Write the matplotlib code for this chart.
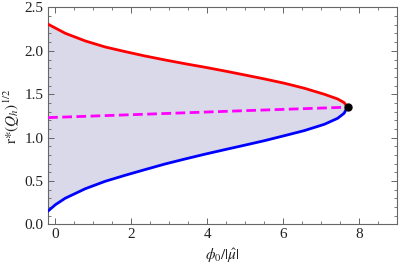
import matplotlib

matplotlib.use('Agg')
import matplotlib.pyplot as plt
from matplotlib.ticker import MultipleLocator

plt.rcParams['font.family'] = ['Liberation Serif', 'DejaVu Serif']
plt.rcParams['mathtext.fontset'] = 'stix'

# upper branch (red)
upper_x = [-0.19, 0.26, 0.79, 1.31, 1.84, 2.36, 2.89, 3.41, 3.94, 4.46, 4.99,
           5.51, 6.04, 6.56, 7.09, 7.44, 7.61, 7.70]
upper_y = [2.307, 2.203, 2.114, 2.045, 1.991, 1.941, 1.895, 1.852, 1.811,
           1.768, 1.722, 1.676, 1.626, 1.569, 1.499, 1.445, 1.403, 1.353]

# lower branch (blue)
lower_x = [-0.19, 0.0, 0.26, 0.79, 1.31, 1.84, 2.36, 2.89, 3.41, 3.94, 4.46,
           4.99, 5.51, 6.04, 6.56, 7.09, 7.44, 7.61, 7.70]
lower_y = [0.153, 0.225, 0.30, 0.41, 0.495, 0.565, 0.63, 0.695, 0.752,
           0.808, 0.86, 0.912, 0.964, 1.022, 1.08, 1.153, 1.222, 1.28, 1.353]

# middle (magenta dashed)
mid_x = [-0.19, 2.36, 4.99, 7.61, 7.70]
mid_y = [1.23, 1.269, 1.31, 1.349, 1.353]

tip_x, tip_y = 7.70, 1.353

fig = plt.figure(figsize=(3.99, 2.67), dpi=100)
ax = fig.add_axes([0.1196, 0.16, 0.875, 0.812])

poly_x = upper_x + lower_x[::-1]
poly_y = upper_y + lower_y[::-1]
ax.fill(poly_x, poly_y, color='#d9d9ea', lw=0, zorder=1)
ax.plot(upper_x, upper_y, color='#ff0000', lw=2, zorder=3, solid_capstyle='round')
ax.plot(lower_x, lower_y, color='#0000ff', lw=2, zorder=3, solid_capstyle='round')
ax.plot(mid_x, mid_y, color='#ff00ff', lw=2, dashes=(3.5, 1.6), zorder=3)
ax.plot([tip_x], [tip_y], 'o', color='black', ms=5, zorder=4)

ax.set_xlim(-0.2, 9.0)
ax.set_ylim(0, 2.5)
ax.xaxis.set_major_locator(MultipleLocator(2))
ax.xaxis.set_minor_locator(MultipleLocator(0.5))
ax.yaxis.set_major_locator(MultipleLocator(0.5))
ax.yaxis.set_minor_locator(MultipleLocator(0.1))
ax.set_yticklabels([f'{v:.1f}' for v in ax.get_yticks()])

frame = '#666666'
for s in ax.spines.values():
    s.set_color(frame)
    s.set_linewidth(0.8)
ax.tick_params(which='both', direction='in', top=True, right=True,
               color=frame, labelsize=11, labelcolor='#222222')
ax.tick_params(which='major', length=4, width=0.7, pad=3)
ax.tick_params(which='minor', length=2, width=0.6)

ax.set_xlabel(r'$\phi_0/|\hat{\mu}|$', fontsize=11, color='#222222', labelpad=4)
ax.set_ylabel(r'$\mathrm{r}{*}(Q_h)^{1/2}$', fontsize=11, color='#222222', labelpad=2)

fig.savefig('out.png', dpi=100)
plt.close(fig)
